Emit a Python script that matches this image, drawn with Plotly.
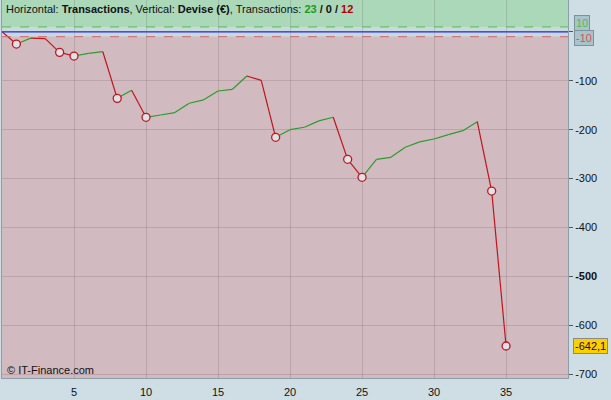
import plotly.graph_objects as go

# ---- data ----
trades = list(range(0, 36))
equity = [0, -25, -13, -14, -42, -49.5, -44, -40.7, -136, -119.6, -174.7, -170, -165,
          -146, -139, -121, -117.5, -90.3, -99.2, -215.6, -200, -195, -182, -174.7,
          -260.6, -297.4, -260.6, -256.5, -236, -225, -219, -210, -202, -183.7,
          -325.4, -642.1]
marker_idx = [1, 4, 5, 8, 10, 19, 24, 25, 34, 35]
y_ticks = [0, -100, -200, -300, -400, -500, -600, -700]
y_ticktext = ["", "-100", "-200", "-300", "-400", "<b>-500</b>", "-600", "-700"]
x_ticks = [5, 10, 15, 20, 25, 30, 35]
upper_level = 10
lower_level = -10
last_label = "-642,1"
wins, draws, losses = 23, 0, 12

GREEN = "#2a9d2a"
RED = "#c0141c"
FONT = "Liberation Sans, Arial, sans-serif"

Y_MIN, Y_MAX = -707.5, 65
X_MIN, X_MAX = 0, 39.3

fig = go.Figure()

# colored segments
gx, gy, rx, ry = [], [], [], []
for i in range(1, len(equity)):
    if equity[i] >= equity[i - 1] + 0.0001:
        gx += [trades[i - 1], trades[i], None]
        gy += [equity[i - 1], equity[i], None]
    else:
        rx += [trades[i - 1], trades[i], None]
        ry += [equity[i - 1], equity[i], None]

fig.add_trace(go.Scatter(x=gx, y=gy, mode="lines", line=dict(color=GREEN, width=1.2),
                         hoverinfo="skip", showlegend=False))
fig.add_trace(go.Scatter(x=rx, y=ry, mode="lines", line=dict(color=RED, width=1.2),
                         hoverinfo="skip", showlegend=False))
fig.add_trace(go.Scatter(x=[trades[i] for i in marker_idx], y=[equity[i] for i in marker_idx],
                         mode="markers",
                         marker=dict(symbol="circle", size=8, color="#dce4e9",
                                     line=dict(color=RED, width=1.3)),
                         hoverinfo="skip", showlegend=False))

shapes = [
    dict(type="rect", xref="paper", yref="y", x0=0, x1=1, y0=upper_level, y1=Y_MAX,
         fillcolor="#aad8b9", line=dict(width=0), layer="below"),
    dict(type="rect", xref="paper", yref="y", x0=0, x1=1, y0=lower_level, y1=upper_level,
         fillcolor="#c8d9e0", line=dict(width=0), layer="below"),
    dict(type="rect", xref="paper", yref="y", x0=0, x1=1, y0=Y_MIN, y1=lower_level,
         fillcolor="#d1bbc0", line=dict(width=0), layer="below"),
    dict(type="line", xref="paper", yref="y", x0=0, x1=1, y0=upper_level, y1=upper_level,
         line=dict(color="#55bb55", width=1, dash="dash")),
    dict(type="line", xref="paper", yref="y", x0=0, x1=1, y0=lower_level, y1=lower_level,
         line=dict(color="#d06868", width=1, dash="dash")),
    dict(type="line", xref="paper", yref="y", x0=0, x1=1, y0=0, y1=0,
         line=dict(color="#2a2ae0", width=1.2)),
]

annotations = [
    dict(xref="paper", yref="paper", x=0, y=1, xanchor="left", yanchor="top",
         xshift=2, yshift=-1, showarrow=False, align="left",
         text=("Horizontal: <b>Transactions</b>, Vertical: <b>Devise (€)</b>, Transactions: "
               f"<b><span style='color:#1a9a1a'>{wins}</span> / {draws} / "
               f"<span style='color:#b00000'>{losses}</span></b>"),
         font=dict(family=FONT, size=11, color="#111111")),
    dict(xref="paper", yref="paper", x=0, y=0, xanchor="left", yanchor="bottom",
         xshift=3, yshift=0, showarrow=False, text="© IT-Finance.com",
         font=dict(family=FONT, size=11, color="#111111")),
    dict(xref="paper", yref="y", x=1, y=upper_level, xanchor="left", yanchor="middle",
         xshift=6, yshift=4, showarrow=False, text=str(upper_level),
         font=dict(family=FONT, size=11, color="#4cc04c"),
         bgcolor="#a9c3cc", bordercolor="#7d939c", borderwidth=1, borderpad=1),
    dict(xref="paper", yref="y", x=1, y=lower_level, xanchor="left", yanchor="middle",
         xshift=6, yshift=-1, showarrow=False, text=str(lower_level),
         font=dict(family=FONT, size=11, color="#e05050"),
         bgcolor="#a9c3cc", bordercolor="#7d939c", borderwidth=1, borderpad=1),
    dict(xref="paper", yref="y", x=1, y=equity[-1], xanchor="left", yanchor="middle",
         xshift=5, showarrow=False, text=last_label,
         font=dict(family=FONT, size=11, color="#3a0000"),
         bgcolor="#f8d000", bordercolor="#8a8a8a", borderwidth=1, borderpad=1),
]

fig.update_layout(
    width=611, height=400,
    margin=dict(l=2, r=43, t=0, b=22),
    paper_bgcolor="#cfdee5",
    plot_bgcolor="#d1bbc0",
    shapes=shapes,
    annotations=annotations,
    font=dict(family=FONT, size=11, color="#111111"),
    xaxis=dict(range=[X_MIN, X_MAX], tickvals=x_ticks, showgrid=True,
               gridcolor="rgba(70,40,50,0.15)", gridwidth=1, zeroline=False,
               showline=True, mirror=True, linecolor="#8c9ea7", linewidth=1,
               ticks="outside", ticklen=4, tickcolor="rgba(0,0,0,0)",
               tickfont=dict(family=FONT, size=11, color="#111111")),
    yaxis=dict(range=[Y_MIN, Y_MAX], side="right", tickvals=y_ticks, ticktext=y_ticktext,
               showgrid=True, gridcolor="rgba(70,40,50,0.15)", gridwidth=1, zeroline=False,
               showline=True, mirror=True, linecolor="#8c9ea7", linewidth=1,
               ticks="outside", ticklen=4, tickcolor="#555555",
               tickfont=dict(family=FONT, size=11, color="#111111")),
)

fig.write_html("out.html", config={"displayModeBar": False},
               post_script="document.body.style.margin='0';document.body.style.overflow='hidden';")
